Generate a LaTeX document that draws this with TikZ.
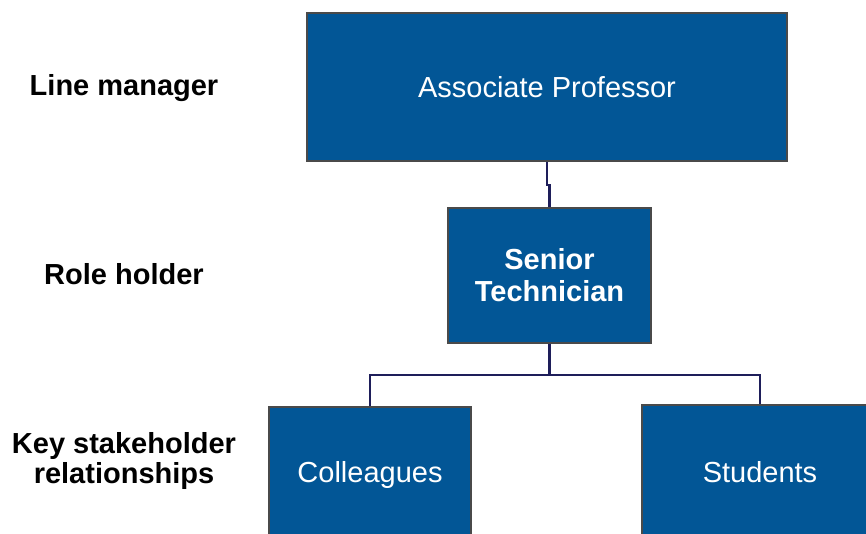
\documentclass[tikz,border=0pt]{standalone}
\usepackage{fontspec}
\setmainfont{Liberation Sans}
\usetikzlibrary{calc}
\definecolor{boxblue}{HTML}{025696}
\definecolor{boxedge}{HTML}{4A4A4A}
\definecolor{linknavy}{HTML}{1E1E5A}
\tikzset{
  orgbox/.style={draw=boxedge, line width=2.4pt, fill=boxblue, text=white,
    inner sep=0pt, align=center, font=\fontsize{29}{32}\selectfont},
  tierlabel/.style={align=center, inner sep=0pt,
    font=\fontsize{29}{30}\selectfont\bfseries},
  orglink/.style={draw=linknavy, line width=2.2pt}
}
\begin{document}
\begin{tikzpicture}[x=1pt,y=-1pt]
  \useasboundingbox (0,0) rectangle (866,533);
  \clip (0,0) rectangle (866,533);
  % tier labels
  \node[tierlabel, anchor=base] (lm) at (124,95) {Line manager};
  \node[tierlabel, anchor=base] (rh) at (124,284) {Role holder};
  \node[tierlabel] (ks) at (124,461) {Key stakeholder\\relationships};
  % boxes
  \node[orgbox, minimum width=480pt, minimum height=148pt] (top) at (547,87) {Associate Professor};
  \node[orgbox, minimum width=203pt, minimum height=135pt] (mid) at (549.5,275.5) {\bfseries Senior\\\bfseries Technician};
  \node[orgbox, minimum width=202pt, minimum height=135pt] (cl) at (370,474.5) {Colleagues};
  \node[orgbox, minimum width=236pt, minimum height=135pt] (st) at (760,472.5) {Students};
  % connectors
  \coordinate (k) at ($(top.south)+(0,23)$);
  \draw[orglink] (top.south) -- (k) -| (mid.north);
  \coordinate (j) at ($(mid.south)+(0,31)$);
  \draw[orglink] (mid.south) -- (j) -| (cl.north);
  \draw[orglink] (j) -| (st.north);
\end{tikzpicture}
\end{document}
